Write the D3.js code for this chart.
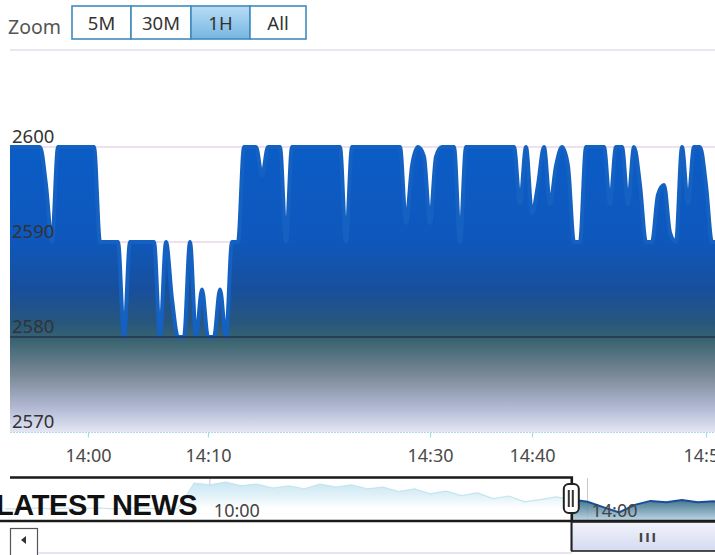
<!DOCTYPE html>
<html>
<head>
<meta charset="utf-8">
<script src="https://cdn.jsdelivr.net/npm/d3@7/dist/d3.min.js"></script>
<style>
  html, body { margin: 0; padding: 0; background: #ffffff; }
  svg { display: block; font-family: "Noto Sans", "Open Sans", sans-serif; }
</style>
</head>
<body>
<svg id="chart" width="715" height="555"></svg>
<script>
// ---------------- data ----------------
const zoomButtons = ["5M", "30M", "1H", "All"];
const selectedButton = "1H";

const mainValues = [
  2600, 2600, 2600, 2600, 2600, 2600, 2596, 2590,
  2600, 2600, 2600, 2600, 2600, 2600, 2600,
  2590, 2590, 2590, 2590, 2580, 2590, 2590, 2590, 2590, 2590,
  2580, 2590, 2584, 2580, 2580, 2590, 2580, 2585, 2580, 2580, 2585, 2580,
  2590, 2590, 2600, 2600, 2600, 2597, 2600, 2600, 2600, 2590,
  2600, 2600, 2600, 2600, 2600, 2600, 2600, 2600, 2600, 2590,
  2600, 2600, 2600, 2600, 2600, 2600, 2600, 2600, 2600,
  2592, 2598, 2600, 2599, 2592, 2599, 2600, 2600, 2600, 2590,
  2600, 2600, 2600, 2600, 2600, 2600, 2600, 2600, 2600,
  2594, 2600, 2593, 2596, 2600, 2594, 2598, 2600, 2598, 2590, 2590,
  2600, 2600, 2600, 2600, 2594, 2600, 2600, 2594, 2600, 2596,
  2590, 2590, 2595, 2596, 2591, 2590, 2600, 2594, 2600, 2600, 2596, 2590, 2590
];
const yTicks = [2570, 2580, 2590, 2600];
const xTickLabels = ["14:00", "14:10", "14:30", "14:40", "14:50"];
const xTickIndex = [13, 33, 70, 87, 116];

const navTimes = [
  "07:50","08:00","08:10","08:20","08:30","08:40","08:50","09:00","09:10","09:20",
  "09:30","09:40","09:50","10:00","10:10","10:20","10:30","10:40","10:50","11:00",
  "11:10","11:20","11:30","11:40","11:50","12:00","12:10","12:20","12:30","12:40",
  "12:50","13:00","13:10","13:20","13:30","13:40","13:50","14:00","14:10","14:20",
  "14:30","14:40","14:50","15:00","15:10","15:20","15:30"
];
const navValues = [
  2545, 2545, 2547, 2545, 2547, 2546, 2547, 2545, 2547, 2546,
  2545, 2547, 2603, 2599, 2605, 2597, 2601, 2592, 2597, 2590,
  2601, 2594, 2599, 2590, 2594, 2584, 2590, 2579, 2585, 2575,
  2581, 2568, 2574, 2561, 2566, 2572, 2566, 2561, 2549, 2537,
  2554, 2563, 2560, 2565, 2560, 2562, 2561
];
const navTickLabels = ["10:00", "14:00"];
const navDomain = ["07:53", "15:21"];
const navSelectStart = "13:50";
const newsTitle = "LATEST NEWS";

// ---------------- setup ----------------
const svg = d3.select("#chart");
const parseT = d3.timeParse("%H:%M");
const defs = svg.append("defs");

const g1 = defs.append("linearGradient").attr("id", "areaGrad")
  .attr("gradientUnits", "userSpaceOnUse").attr("x1", 0).attr("x2", 0).attr("y1", 147).attr("y2", 432);
[[0, "#0b5cc6"], [0.32, "#0e58bd"], [0.5, "#184f9c"], [0.62, "#28577c"], [0.68, "#3a6470"],
 [0.8, "#7a8896"], [0.92, "#b4bcd6"], [1, "#e4e6f4"]]
  .forEach(([o, c]) => g1.append("stop").attr("offset", o).attr("stop-color", c));

const g2 = defs.append("linearGradient").attr("id", "btnGrad").attr("x1", 0).attr("x2", 0).attr("y1", 0).attr("y2", 1);
g2.append("stop").attr("offset", 0).attr("stop-color", "#b8dcf4");
g2.append("stop").attr("offset", 1).attr("stop-color", "#76b6e2");

const g3 = defs.append("linearGradient").attr("id", "navGrad")
  .attr("gradientUnits", "userSpaceOnUse").attr("x1", 0).attr("x2", 0).attr("y1", 498).attr("y2", 521);
g3.append("stop").attr("offset", 0).attr("stop-color", "#1d5a76");
g3.append("stop").attr("offset", 1).attr("stop-color", "#b8d2e2");

const g5 = defs.append("linearGradient").attr("id", "navLightGrad")
  .attr("gradientUnits", "userSpaceOnUse").attr("x1", 0).attr("x2", 0).attr("y1", 482).attr("y2", 508);
g5.append("stop").attr("offset", 0).attr("stop-color", "#c9e7f3");
g5.append("stop").attr("offset", 0.55).attr("stop-color", "#e2f2f8");
g5.append("stop").attr("offset", 1).attr("stop-color", "#ffffff");

const g4 = defs.append("linearGradient").attr("id", "thumbGrad").attr("x1", 0).attr("x2", 0).attr("y1", 0).attr("y2", 1);
g4.append("stop").attr("offset", 0).attr("stop-color", "#f2f4fc");
g4.append("stop").attr("offset", 1).attr("stop-color", "#d4daf0");

// ---------------- range selector ----------------
svg.append("text").attr("x", 8).attr("y", 34).attr("font-size", 19.5).attr("fill", "#555").text("Zoom");

const btnWidths = { "5M": 59, "30M": 60, "1H": 59, "All": 56 };
let bx = 72;
const btnPos = {};
zoomButtons.forEach(b => { btnPos[b] = bx; bx += btnWidths[b]; });
const btns = svg.append("g");
zoomButtons.forEach(b => {
  btns.append("rect").attr("x", btnPos[b]).attr("y", 6).attr("width", btnWidths[b]).attr("height", 33)
    .attr("fill", b === selectedButton ? "url(#btnGrad)" : "#ffffff")
    .attr("stroke", "#3f8cbf").attr("stroke-width", 1.6);
  btns.append("text").attr("x", btnPos[b] + btnWidths[b] / 2).attr("y", 29.5)
    .attr("text-anchor", "middle").attr("font-size", 18.5).attr("fill", "#333").text(b);
});
svg.append("line").attr("x1", 10).attr("x2", 715).attr("y1", 50).attr("y2", 50)
  .attr("stroke", "#d9cbe6").attr("stroke-width", 1.2);

// ---------------- main chart ----------------
const x = d3.scaleLinear().domain([0, mainValues.length - 1]).range([10, 10 + 6 * (mainValues.length - 1)]);
const y = d3.scaleLinear().domain([2570, 2600]).range([432, 147]);

defs.append("clipPath").attr("id", "plotClip").append("rect")
  .attr("x", 10).attr("y", 100).attr("width", 705).attr("height", 332);

svg.append("g").selectAll("line").data([2590, 2600]).join("line")
  .attr("x1", 10).attr("x2", 715).attr("y1", d => y(d)).attr("y2", d => y(d))
  .attr("stroke", "#d9c3dc").attr("stroke-width", 1.2);

const plot = svg.append("g").attr("clip-path", "url(#plotClip)");
const area = d3.area().x((d, i) => x(i)).y0(y(2570)).y1(d => y(d)).curve(d3.curveMonotoneX);
const line = d3.line().x((d, i) => x(i)).y(d => y(d)).curve(d3.curveMonotoneX);
plot.append("path").datum(mainValues).attr("d", area).attr("fill", "url(#areaGrad)");
plot.append("path").datum(mainValues).attr("d", line).attr("fill", "none")
  .attr("stroke", "#1461c2").attr("stroke-width", 4).attr("stroke-linejoin", "round");

svg.append("line").attr("x1", 10).attr("x2", 715).attr("y1", y(2580)).attr("y2", y(2580))
  .attr("stroke", "#25334f").attr("stroke-width", 1.6);

svg.append("line").attr("x1", 10).attr("x2", 715).attr("y1", y(2570) + 0.5).attr("y2", y(2570) + 0.5)
  .attr("stroke", "#a9d9ea").attr("stroke-width", 1.2).attr("stroke-dasharray", "2,1");
const xAxis = d3.axisBottom(x).tickValues(xTickIndex).tickSize(5)
  .tickFormat((d, i) => xTickLabels[i]);
const xg = svg.append("g").attr("transform", `translate(0,${y(2570) + 0.5})`).call(xAxis);
xg.select(".domain").remove();
xg.selectAll(".tick line").attr("stroke", "#a9d9ea").attr("stroke-width", 1.2);
xg.selectAll(".tick text").attr("font-size", 18).attr("fill", "#4a4a4a")
  .attr("font-family", "Noto Sans, Open Sans, sans-serif").attr("dy", "1.2em");

svg.append("g").selectAll("text").data(yTicks).join("text")
  .attr("x", 12).attr("y", d => y(d) - 4)
  .attr("font-size", 18.5).attr("fill", "#333").text(d => d);

// ---------------- navigator ----------------
const nx = d3.scaleTime().domain(navDomain.map(parseT)).range([10, 715]);
const ny = d3.scaleLinear().domain([2520, 2610]).range([520, 480]);
const navData = navTimes.map((t, i) => ({ t: parseT(t), v: navValues[i] }));
const selX = nx(parseT(navSelectStart));

defs.append("clipPath").attr("id", "navLeft").append("rect")
  .attr("x", 0).attr("y", 478).attr("width", selX).attr("height", 43);
defs.append("clipPath").attr("id", "navRight").append("rect")
  .attr("x", selX).attr("y", 478).attr("width", 715 - selX).attr("height", 43);

svg.append("g").selectAll("line").data(navTickLabels).join("line")
  .attr("x1", d => nx(parseT(d))).attr("x2", d => nx(parseT(d)))
  .attr("y1", 478).attr("y2", 520).attr("stroke", "#c8c8d4").attr("stroke-width", 1);

const navArea = d3.area().x(d => nx(d.t)).y0(520).y1(d => ny(d.v));
const navLine = d3.line().x(d => nx(d.t)).y(d => ny(d.v));
const navL = svg.append("g").attr("clip-path", "url(#navLeft)");
navL.append("path").datum(navData).attr("d", navArea).attr("fill", "url(#navLightGrad)");
navL.append("path").datum(navData).attr("d", navLine).attr("fill", "none").attr("stroke", "#c4e4ef").attr("stroke-width", 1.2);

const navR = svg.append("g").attr("clip-path", "url(#navRight)");
navR.append("path").datum(navData).attr("d", navArea).attr("fill", "url(#navGrad)").attr("opacity", 0.88);

svg.append("g").selectAll("text").data(navTickLabels).join("text")
  .attr("x", d => nx(parseT(d)) + 4).attr("y", 517)
  .attr("font-size", 18).attr("fill", "#444").text(d => d);

navR.append("path").datum(navData).attr("d", navLine).attr("fill", "none").attr("stroke", "#1a4c98").attr("stroke-width", 2);

svg.append("path")
  .attr("d", `M10,477.5 L${selX},477.5 L${selX},551 M0,521 L715,521`)
  .attr("fill", "none").attr("stroke", "#1a1a1a").attr("stroke-width", 2.6);

// scrollbar
svg.append("rect").attr("x", selX).attr("y", 522).attr("width", 720 - selX).attr("height", 29)
  .attr("fill", "url(#thumbGrad)").attr("stroke", "#222").attr("stroke-width", 1.6);
svg.append("text").attr("x", (selX + 725) / 2).attr("y", 542).attr("text-anchor", "middle")
  .attr("font-family", "DejaVu Sans, sans-serif")
  .attr("font-size", 12).attr("font-weight", "bold").attr("letter-spacing", 2).attr("fill", "#444").text("III");
svg.append("rect").attr("x", 10.5).attr("y", 528.5).attr("width", 27).attr("height", 30)
  .attr("fill", "#fff").attr("stroke", "#555").attr("stroke-width", 1.2);
svg.append("path").attr("d", "M21,540 L26,536 L26,544 Z").attr("fill", "#333");
svg.append("line").attr("x1", 38).attr("x2", selX).attr("y1", 553).attr("y2", 553)
  .attr("stroke", "#e2d8ee").attr("stroke-width", 1.5);

// handle
svg.append("rect").attr("x", selX - 8).attr("y", 484).attr("width", 15).attr("height", 29).attr("rx", 5)
  .attr("fill", "#fff").attr("stroke", "#222").attr("stroke-width", 2);
svg.append("path").attr("d", `M${selX - 3},490 V507 M${selX + 1},490 V507`)
  .attr("stroke", "#333").attr("stroke-width", 2);

// overlay headline
svg.append("text").attr("x", -4).attr("y", 515).attr("font-family", "Liberation Sans, Arial, sans-serif")
  .attr("font-weight", "bold").attr("font-size", 29).attr("letter-spacing", -0.4)
  .attr("fill", "#111").text(newsTitle);
</script>
</body>
</html>
